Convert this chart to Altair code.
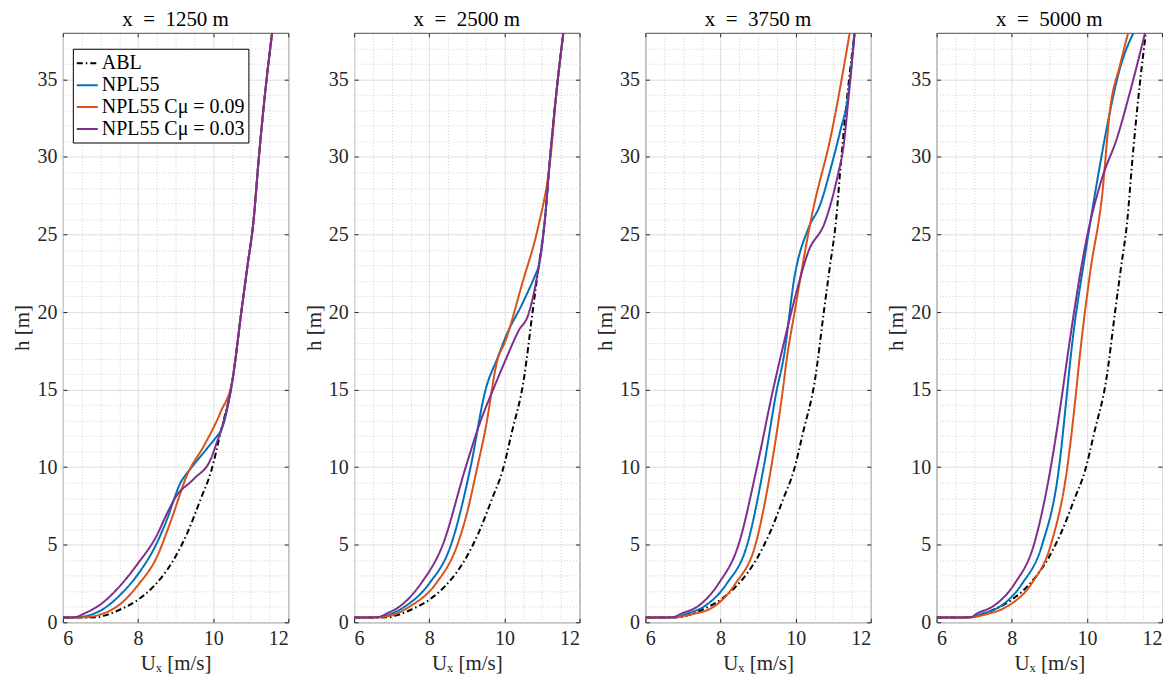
import altair as alt
import pandas as pd

SERIES = ["ABL", "NPL55", "NPL55 Cμ = 0.09", "NPL55 Cμ = 0.03"]
COLORS = ["#000000", "#0072BD", "#D95319", "#7E2F8E"]
DASHES = [[6, 3, 1.5, 3], [1, 0], [1, 0], [1, 0]]
TITLES = ["x\u2002=\u20021250 m", "x\u2002=\u20022500 m", "x\u2002=\u20023750 m", "x\u2002=\u20025000 m"]
X_MAJOR = [6, 8, 10, 12]
X_MINOR = [6.5, 7, 7.5, 8.5, 9, 9.5, 10.5, 11, 11.5]
Y_MAJOR = [0, 5, 10, 15, 20, 25, 30, 35]
Y_MINOR = [v for v in range(1, 38) if v % 5 != 0]

# inflow ABL profile (same in every panel)
abl_u = [6.0, 6.9, 7.2, 7.54, 8.0, 8.43, 8.96, 9.32, 9.67, 9.94, 10.2, 10.52, 10.75, 10.91, 11.08, 11.2, 11.4, 11.57]
abl_h = [0.3, 0.32, 0.5, 0.84, 1.45, 2.35, 4.07, 5.8, 7.95, 9.68, 12.26, 15.7, 20.0, 22.9, 26.0, 29.5, 34.5, 38.0]

# x = 1250 m
p1_npl_u = [6.0, 6.4, 6.7, 7.0, 7.54, 8.0, 8.5, 8.75, 9.14, 9.4, 9.76, 10.12, 10.2, 10.52, 10.75, 10.91, 11.08, 11.2, 11.4, 11.57]
p1_npl_h = [0.3, 0.32, 0.45, 0.75, 1.8, 3.1, 5.1, 6.5, 9.03, 9.9, 10.97, 12.05, 12.3, 15.7, 20.0, 22.9, 26.0, 29.5, 34.5, 38.0]
p1_c09_u = [6.0, 6.6, 7.0, 7.54, 8.0, 8.5, 8.87, 9.32, 9.76, 10.2, 10.52, 10.75, 10.91, 11.08, 11.2, 11.4, 11.57]
p1_c09_h = [0.3, 0.32, 0.5, 1.2, 2.4, 4.2, 6.5, 9.57, 11.4, 13.56, 15.7, 20.0, 22.9, 26.0, 29.5, 34.5, 38.0]
p1_c03_u = [6.0, 6.3, 6.6, 7.0, 7.54, 8.0, 8.5, 8.75, 9.0, 9.49, 9.94, 10.1, 10.2, 10.52, 10.75, 10.91, 11.08, 11.2, 11.4, 11.57]
p1_c03_h = [0.3, 0.32, 0.6, 1.15, 2.4, 3.8, 5.6, 6.9, 8.06, 9.25, 10.54, 11.6, 12.3, 15.7, 20.0, 22.9, 26.0, 29.5, 34.5, 38.0]

# x = 2500 m
p2_npl_u = [6.0, 6.6, 7.0, 7.34, 8.0, 8.58, 9.1, 9.5, 9.81, 10.07, 10.47, 10.86, 10.91, 11.08, 11.2, 11.4, 11.57]
p2_npl_h = [0.3, 0.32, 0.55, 1.0, 2.5, 5.0, 10.0, 15.0, 17.0, 18.6, 20.5, 22.6, 22.9, 26.0, 29.5, 34.5, 38.0]
p2_c09_u = [6.0, 6.6, 7.0, 7.47, 8.18, 8.75, 9.0, 9.28, 9.5, 9.81, 10.03, 10.47, 10.91, 11.17, 11.22, 11.4, 11.57]
p2_c09_h = [0.3, 0.32, 0.45, 1.0, 2.5, 5.0, 7.0, 10.0, 12.5, 16.86, 18.15, 21.8, 25.6, 28.85, 29.8, 34.5, 38.0]
p2_c03_u = [6.0, 6.6, 6.9, 7.2, 7.78, 8.36, 8.97, 9.37, 9.7, 10.03, 10.38, 10.64, 10.91, 11.08, 11.2, 11.4, 11.57]
p2_c03_h = [0.3, 0.32, 0.6, 1.0, 2.5, 5.0, 10.0, 13.0, 15.0, 16.9, 18.8, 19.86, 22.9, 26.0, 29.5, 34.5, 38.0]

# x = 3750 m
p3_npl_u = [6.0, 6.8, 7.1, 7.55, 8.17, 8.71, 9.15, 9.5, 9.67, 9.98, 10.34, 10.65, 10.96, 11.18, 11.4, 11.57]
p3_npl_h = [0.3, 0.32, 0.55, 1.0, 2.5, 5.0, 10.0, 15.0, 16.9, 22.4, 25.4, 26.9, 29.5, 31.6, 34.0, 38.0]
p3_c09_u = [6.0, 6.8, 7.2, 7.82, 8.4, 8.93, 9.35, 9.66, 9.76, 9.98, 10.42, 10.96, 11.44]
p3_c09_h = [0.3, 0.32, 0.5, 1.0, 2.5, 5.0, 10.0, 15.0, 16.9, 20.1, 26.1, 31.6, 38.0]
p3_c03_u = [6.0, 6.7, 7.0, 7.38, 7.95, 8.48, 8.97, 9.4, 9.58, 9.98, 10.34, 10.78, 11.13, 11.27, 11.4, 11.57]
p3_c03_h = [0.3, 0.32, 0.6, 1.0, 2.5, 5.0, 10.0, 15.0, 16.9, 20.9, 23.9, 25.8, 28.9, 30.6, 33.6, 38.0]

# x = 5000 m
p4_npl_u = [6.0, 6.9, 7.2, 7.68, 8.28, 8.81, 9.26, 9.48, 9.56, 10.0, 10.35, 10.58, 10.88, 11.24]
p4_npl_h = [0.3, 0.32, 0.55, 1.0, 2.5, 5.0, 10.0, 15.0, 16.9, 24.4, 29.5, 32.5, 35.7, 38.0]
p4_c09_u = [6.0, 6.9, 7.3, 7.86, 8.53, 9.04, 9.48, 9.72, 9.8, 10.09, 10.4, 10.62, 10.88, 11.1]
p4_c09_h = [0.3, 0.32, 0.5, 1.0, 2.5, 5.0, 10.0, 15.0, 16.9, 22.6, 27.4, 33.1, 35.9, 38.0]
p4_c03_u = [6.0, 6.9, 7.1, 7.48, 8.08, 8.59, 9.04, 9.36, 9.47, 10.0, 10.4, 10.8, 11.15, 11.55]
p4_c03_h = [0.3, 0.32, 0.6, 1.0, 2.5, 5.0, 10.0, 15.0, 16.9, 24.8, 28.6, 31.2, 34.2, 38.0]

PANELS = [
    (p1_npl_u, p1_npl_h, p1_c09_u, p1_c09_h, p1_c03_u, p1_c03_h),
    (p2_npl_u, p2_npl_h, p2_c09_u, p2_c09_h, p2_c03_u, p2_c03_h),
    (p3_npl_u, p3_npl_h, p3_c09_u, p3_c09_h, p3_c03_u, p3_c03_h),
    (p4_npl_u, p4_npl_h, p4_c09_u, p4_c09_h, p4_c03_u, p4_c03_h),
]

FONT = "Liberation Serif"
TXT = "#262626"
TICK = 4

xs = alt.Scale(domain=[6, 12], nice=False, zero=False)
ys = alt.Scale(domain=[0, 38], nice=False, zero=False)
cscale = alt.Scale(domain=SERIES, range=COLORS)
dscale = alt.Scale(domain=SERIES, range=DASHES)
legend = alt.Legend(title=None, orient="none", legendX=10, legendY=16)


def panel_df(i):
    rows = []
    nu, nh, cu, ch, pu, ph = PANELS[i]
    series_data = [(SERIES[0], abl_u, abl_h), (SERIES[1], nu, nh), (SERIES[2], cu, ch), (SERIES[3], pu, ph)]
    for s, us, hs in series_data:
        for k, (u, h) in enumerate(zip(us, hs)):
            rows.append({"series": s, "U": u, "h": h, "idx": k})
    return pd.DataFrame(rows)


def minor_axis(orient, values):
    return alt.Axis(orient=orient, values=values, grid=True, labels=False, ticks=False, domain=False,
                    title=None, gridDash=[1, 2], gridColor="#cfcfcf")


def tick_axis(orient, values):
    # inward ticks: axis pulled inside by the tick length, ticks pointing to the frame
    return alt.Axis(orient=orient, values=values, grid=False, labels=False, ticks=True, tickSize=TICK,
                    tickColor=TXT, tickWidth=1, offset=-TICK, domain=False, title=None)


def make_panel(i):
    d = panel_df(i)
    base = alt.Chart(d)
    enc_common = dict(
        color=alt.Color("series:N", scale=cscale, legend=legend),
        strokeDash=alt.StrokeDash("series:N", scale=dscale, legend=legend),
        order=alt.Order("idx:Q"),
    )

    def layer_for(series, xaxis, yaxis):
        return base.transform_filter(alt.datum.series == series).mark_line(
            strokeWidth=2, clip=True, interpolate="monotone"
        ).encode(
            x=alt.X("U:Q", scale=xs, axis=xaxis),
            y=alt.Y("h:Q", scale=ys, axis=yaxis),
            **enc_common,
        )

    l_abl = layer_for(SERIES[0], minor_axis("top", X_MINOR), minor_axis("right", Y_MINOR))
    l_npl = layer_for(
        SERIES[1],
        alt.Axis(orient="bottom", values=X_MAJOR, grid=True, title="Uₓ [m/s]", format="d"),
        alt.Axis(orient="left", values=Y_MAJOR, grid=True, title="h [m]", format="d"),
    )
    l_c09 = layer_for(SERIES[2], tick_axis("bottom", X_MAJOR), tick_axis("left", Y_MAJOR))
    l_c03 = layer_for(SERIES[3], tick_axis("top", X_MAJOR), tick_axis("right", Y_MAJOR))
    return alt.layer(l_abl, l_npl, l_c09, l_c03).resolve_axis(x="independent", y="independent").properties(
        width=226, height=591, title=TITLES[i]
    )


chart = alt.hconcat(*[make_panel(i) for i in range(4)], spacing=66, bounds="flush").properties(
    padding={"left": 3, "top": 0, "right": 5, "bottom": 0}
).configure_view(
    stroke="#4d4d4d", strokeWidth=1
).configure_axis(
    labelFont=FONT, labelFontSize=20, labelColor=TXT, titleFont=FONT, titleFontSize=21,
    titleColor=TXT, titleFontWeight="normal", domain=False, ticks=False, gridColor="#dedede",
    gridWidth=1, labelPadding=6, titlePadding=4
).configure_title(
    font=FONT, fontSize=21, fontWeight="normal", color="#000000", offset=2, anchor="middle"
).configure_legend(
    labelFont=FONT, labelFontSize=20, labelColor="#000000", symbolType="stroke", symbolSize=441,
    symbolStrokeWidth=2, strokeColor="#000000", fillColor="#ffffff", padding=3,
    rowPadding=0, labelOffset=3, cornerRadius=0
)

chart.save("out.html", embed_options={"renderer": "svg", "actions": False})
